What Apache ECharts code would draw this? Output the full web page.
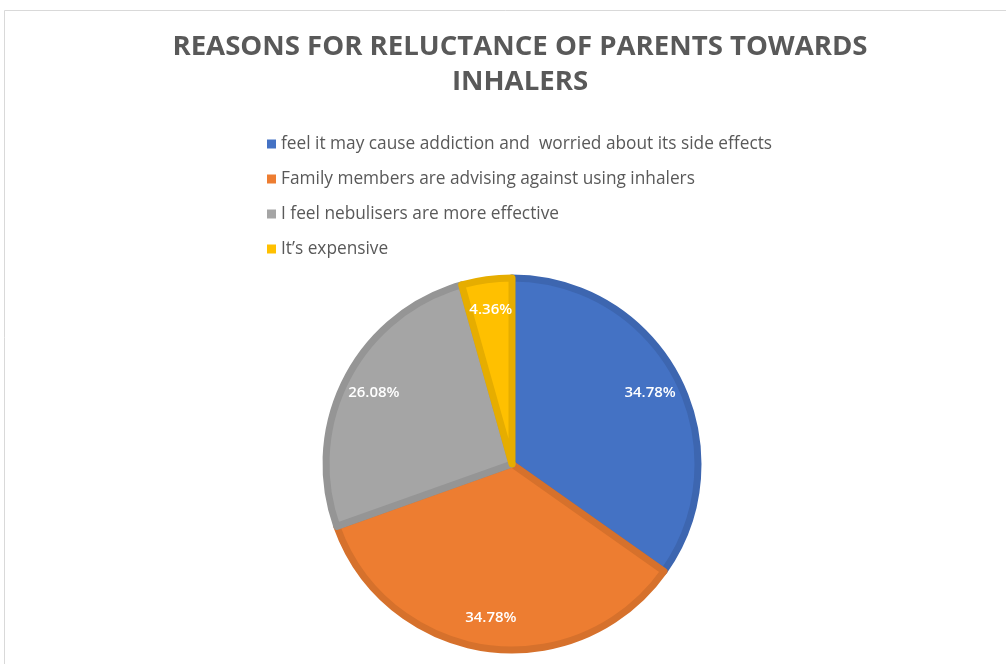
<!DOCTYPE html>
<html>
<head>
<meta charset="utf-8">
<script src="https://cdn.jsdelivr.net/npm/echarts@6/dist/echarts.min.js"></script>
<style>
html,body{margin:0;padding:0;background:#fff;}
#chart{width:1006px;height:664px;}
</style>
</head>
<body>
<div id="chart"></div>
<script>
const categories = [
  'feel it may cause addiction and  worried about its side effects',
  'Family members are advising against using inhalers',
  'I feel nebulisers are more effective',
  'It\u2019s expensive'
];
const values = [34.78, 34.78, 26.08, 4.36];
const fillColors = ['#4472C4', '#ED7D31', '#A5A5A5', '#FFC000'];
const edgeColors = ['#3D66B0', '#D6712C', '#959595', '#E6AD00'];
const titleText = 'REASONS FOR RELUCTANCE OF PARENTS TOWARDS\nINHALERS';

const chart = echarts.init(document.getElementById('chart'));
const R = 186;
const baseData = categories.map((n, i) => ({
  name: n, value: values[i],
  itemStyle: { color: fillColors[i], borderColor: edgeColors[i], borderWidth: 7 }
}));
const labelData = categories.map((n, i) => ({ name: n, value: values[i] }));

chart.setOption({
  backgroundColor: '#fff',
  animation: false,
  graphic: [{
    type: 'rect', silent: true,
    shape: { x: 4.5, y: 10.5, width: 1100, height: 800 },
    style: { fill: 'none', stroke: '#d9d9d9', lineWidth: 1 }
  }],
  title: {
    text: titleText,
    left: 515, textAlign: 'center', top: 25,
    textStyle: { fontFamily: 'Open Sans', fontWeight: 'bold', fontSize: 27.6, color: '#595959', lineHeight: 35 }
  },
  legend: {
    orient: 'vertical', left: 262, top: 130,
    data: categories,
    itemWidth: 9, itemHeight: 9, itemGap: 17,
    icon: 'rect',
    itemStyle: { borderWidth: 0 },
    textStyle: { fontFamily: 'Open Sans', fontSize: 17.3, color: '#595959', lineHeight: 18 },
    selectedMode: false
  },
  series: [{
    type: 'pie',
    center: [512, 464],
    radius: [0, R],
    startAngle: 90,
    clockwise: true,
    silent: true,
    label: { show: false },
    labelLine: { show: false },
    data: baseData
  }, {
    type: 'pie',
    center: [512, 464],
    radius: [R * 0.64, R],
    startAngle: 90,
    clockwise: true,
    silent: true,
    itemStyle: { color: 'rgba(0,0,0,0)' },
    label: {
      show: true, position: 'inside',
      formatter: p => p.value.toFixed(2) + '%',
      fontFamily: 'Open Sans', fontSize: 15, fontWeight: 600, color: '#fff'
    },
    labelLine: { show: false },
    data: labelData
  }]
});
</script>
</body>
</html>
